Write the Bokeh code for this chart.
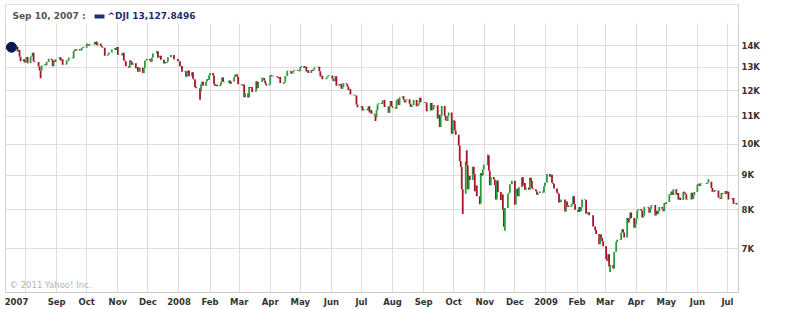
import pandas as pd
from bokeh.plotting import figure
from bokeh.models import ColumnDataSource, FixedTicker, Label, BoxAnnotation, Range1d
from bokeh.embed import file_html
from bokeh.resources import INLINE

# ---- data: ^DJI daily closes, grouped by month (trading days in order) ----
closes_by_month = {
    "2007-07": [13861, 13907, 13951, 13972, 13918, 14000, 13851, 13943, 13716, 13785, 13473, 13266, 13358, 13212],
    "2007-08": [13362, 13463, 13182, 13469, 13505, 13658, 13271, 13240, 13237, 13029, 12861, 12846, 13079, 13122, 13091, 13236, 13236, 13379, 13322, 13041, 13289, 13239, 13358],
    "2007-09": [13448, 13306, 13364, 13113, 13128, 13308, 13292, 13425, 13443, 13404, 13739, 13816, 13767, 13821, 13759, 13779, 13878, 13913, 13896],
    "2007-10": [14088, 14047, 14003, 14066, 14066, 14043, 14165, 14079, 14015, 14093, 13985, 13912, 13892, 13889, 13522, 13567, 13676, 13675, 13671, 13807, 13870, 13793, 13930],
    "2007-11": [13567, 13595, 13543, 13661, 13300, 13267, 13043, 12988, 13307, 13231, 13110, 13177, 12958, 13010, 12799, 12981, 12743, 12958, 13289, 13312, 13372],
    "2007-12": [13315, 13249, 13445, 13620, 13626, 13728, 13433, 13474, 13518, 13340, 13168, 13233, 13207, 13245, 13451, 13550, 13551, 13359, 13366, 13265],
    "2008-01": [13044, 13057, 12800, 12827, 12590, 12736, 12853, 12606, 12778, 12501, 12467, 12159, 12099, 11971, 12271, 12379, 12207, 12384, 12480, 12443, 12650],
    "2008-02": [12743, 12636, 12265, 12200, 12248, 12182, 12240, 12374, 12553, 12376, 12348, 12337, 12427, 12285, 12381, 12570, 12684, 12694, 12582, 12266],
    "2008-03": [12258, 12213, 12254, 11741, 11894, 11740, 12157, 12111, 12146, 11952, 11972, 12392, 12099, 12361, 12548, 12533, 12423, 12302, 12216, 12263],
    "2008-04": [12654, 12608, 12627, 12610, 12612, 12577, 12527, 12581, 12325, 12303, 12362, 12619, 12620, 12849, 12826, 12721, 12763, 12849, 12891, 12872, 12832, 12820],
    "2008-05": [13010, 13058, 12970, 13021, 12814, 12867, 12745, 12876, 12832, 12899, 12992, 12986, 13028, 12828, 12601, 12625, 12480, 12548, 12594, 12647, 12638],
    "2008-06": [12503, 12402, 12391, 12605, 12210, 12280, 12289, 12084, 12141, 12308, 12270, 12160, 12030, 12063, 11843, 11842, 11808, 11811, 11453, 11347, 11350],
    "2008-07": [11382, 11215, 11288, 11232, 11385, 11147, 11229, 11100, 11055, 10963, 11239, 11446, 11496, 11467, 11603, 11632, 11350, 11371, 11132, 11398, 11584, 11379],
    "2008-08": [11326, 11284, 11616, 11656, 11432, 11734, 11782, 11642, 11533, 11616, 11660, 11480, 11349, 11417, 11431, 11628, 11387, 11413, 11502, 11715, 11544],
    "2008-09": [11516, 11533, 11188, 11220, 11511, 11231, 11268, 11434, 11421, 10918, 11060, 10610, 11020, 11388, 11016, 10855, 10825, 11023, 11143, 10365, 10851],
    "2008-10": [10831, 10483, 10325, 9955, 9447, 9258, 8579, 8451, 9388, 9311, 8578, 8979, 8852, 9265, 9034, 8519, 8691, 8379, 8176, 9065, 8991, 9180, 9325],
    "2008-11": [9319, 9625, 9139, 8695, 8944, 8871, 8694, 8283, 8836, 8497, 8273, 8425, 7997, 7552, 8046, 8443, 8480, 8727, 8829],
    "2008-12": [8149, 8419, 8592, 8376, 8636, 8935, 8691, 8762, 8565, 8630, 8565, 8925, 8824, 8605, 8579, 8519, 8419, 8468, 8515, 8483, 8668, 8776],
    "2009-01": [9035, 8953, 9015, 8770, 8742, 8600, 8474, 8449, 8201, 8213, 8281, 7949, 8229, 8123, 8078, 8117, 8175, 8376, 8149, 8001],
    "2009-02": [7937, 8078, 7957, 8063, 8281, 8270, 7889, 7939, 7933, 7850, 7553, 7556, 7466, 7366, 7115, 7351, 7271, 7183, 7063],
    "2009-03": [6763, 6726, 6876, 6594, 6627, 6547, 6926, 6930, 7170, 7224, 7217, 7395, 7486, 7400, 7279, 7776, 7660, 7750, 7925, 7777, 7522, 7609],
    "2009-04": [7761, 7978, 8018, 7975, 7789, 7837, 8083, 8058, 7921, 8030, 8126, 8132, 7842, 7970, 7887, 7957, 8076, 8026, 7958, 8186, 8168],
    "2009-05": [8212, 8426, 8410, 8512, 8410, 8575, 8419, 8469, 8284, 8331, 8268, 8504, 8475, 8423, 8293, 8278, 8474, 8300, 8404, 8500],
    "2009-06": [8722, 8741, 8676, 8750, 8764, 8764, 8764, 8740, 8770, 8799, 8612, 8504, 8497, 8555, 8539, 8339, 8323, 8300, 8472, 8439, 8529, 8447],
    "2009-07": [8504, 8281, 8324, 8163, 8179, 8183, 8146],
}
first_day = "2007-07-12"
last_day = "2009-07-10"
market_holidays = ["2007-09-03", "2007-11-22", "2007-12-25", "2008-01-01", "2008-01-21",
                   "2008-02-18", "2008-03-21", "2008-05-26", "2008-07-04", "2008-09-01",
                   "2008-11-27", "2008-12-25", "2009-01-01", "2009-01-19", "2009-02-16",
                   "2009-04-10", "2009-05-25", "2009-07-03"]

# notable intraday extremes
intraday_lows = {"2007-08-16": 12518, "2008-01-22": 11634, "2008-03-10": 11730,
                 "2008-07-15": 10827, "2008-10-10": 7882, "2008-10-27": 8150,
                 "2008-11-21": 7449, "2008-12-01": 8140, "2009-03-06": 6470}
intraday_highs = {"2007-10-11": 14198, "2008-10-14": 9800, "2008-11-04": 9654,
                  "2008-10-13": 9430, "2009-06-12": 8877}

# axis text
tick_dates = ["2007-07-23", "2007-09-01", "2007-10-01", "2007-11-01", "2007-12-01", "2008-01-01",
              "2008-02-01", "2008-03-01", "2008-04-01", "2008-05-01", "2008-06-01", "2008-07-01",
              "2008-08-01", "2008-09-01", "2008-10-01", "2008-11-01", "2008-12-01", "2009-01-01",
              "2009-02-01", "2009-03-01", "2009-04-01", "2009-05-01", "2009-06-01", "2009-07-01"]
tick_labels = ["2007", "Sep", "Oct", "Nov", "Dec", "2008", "Feb", "Mar", "Apr", "May", "Jun", "Jul",
               "Aug", "Sep", "Oct", "Nov", "Dec", "2009", "Feb", "Mar", "Apr", "May", "Jun", "Jul"]
y_ticks = [7000, 8000, 9000, 10000, 11000, 12000, 13000, 14000]
y_labels = ["7K", "8K", "9K", "10K", "11K", "12K", "13K", "14K"]

header_date = "Sep 10, 2007 :"
header_series = "^DJI 13,127.8496"
copyright_text = "\u00a9 2011 Yahoo! Inc."

# ---- build bars ----
days = pd.bdate_range(first_day, last_day)
days = days[~days.isin(pd.to_datetime(market_holidays))]
dates, closes = [], []
for month, vals in closes_by_month.items():
    mdays = [d for d in days if d.strftime("%Y-%m") == month]
    n = min(len(mdays), len(vals))
    dates += mdays[:n]
    closes += vals[:n]

opens = [closes[0]] + closes[:-1]
lo, hi, colors = [], [], []
for d, o, c in zip(dates, opens, closes):
    key = d.strftime("%Y-%m-%d")
    l = min(o, c, intraday_lows.get(key, c))
    h = max(o, c, intraday_highs.get(key, c))
    lo.append(l)
    hi.append(h)
    colors.append("#2a9a3a" if c >= o else "#a3132d")

src = ColumnDataSource(dict(date=dates, lo=lo, hi=hi, color=colors))

x_start = pd.Timestamp("2007-07-12")
x_end = pd.Timestamp("2009-07-12")

p = figure(width=787, height=309, x_axis_type="datetime", y_axis_type="log",
           y_axis_location="right", output_backend="svg", toolbar_location=None,
           x_range=Range1d(x_start, x_end), y_range=Range1d(6034, 16100),
           min_border_left=5, min_border_right=49, min_border_top=4, min_border_bottom=17)
p.background_fill_color = "white"
p.border_fill_color = "white"
p.outline_line_color = "#d4d4d4"

month_starts = pd.date_range("2007-08-01", "2009-07-01", freq="MS")
ms = lambda t: pd.Timestamp(t).value // 10**6
p.xgrid.ticker = FixedTicker(ticks=[ms(t) for t in month_starts])
p.ygrid.ticker = FixedTicker(ticks=y_ticks)
p.grid.grid_line_color = "#dedede"
p.grid.grid_line_width = 1

p.xaxis.ticker = FixedTicker(ticks=[ms(t) for t in tick_dates])
p.xaxis.major_label_overrides = {ms(t): lab for t, lab in zip(tick_dates, tick_labels)}
p.yaxis.ticker = FixedTicker(ticks=y_ticks)
p.yaxis.major_label_overrides = {t: lab for t, lab in zip(y_ticks, y_labels)}
for ax in (p.xaxis, p.yaxis):
    ax.axis_line_color = "#cccccc"
    ax.major_tick_line_color = None
    ax.minor_tick_line_color = None
    ax.major_tick_out = 0
    ax.major_tick_in = 0
    ax.minor_tick_out = 0
    ax.minor_tick_in = 0
    ax.major_label_text_font = "DejaVu Sans"
    ax.major_label_text_font_style = "bold"
    ax.major_label_text_font_size = "8.5px"
    ax.major_label_text_color = "#333333"
p.xaxis.major_label_standoff = 4
p.yaxis.major_label_standoff = 3

p.segment(x0="date", y0="lo", x1="date", y1="hi", color="color", line_width=1.8, source=src)
p.scatter(x=[dates[4]], y=[closes[4]], size=10, fill_color="#0b1650", line_color="#0b1650")

# header area (white strip above plotting grid)
p.add_layout(BoxAnnotation(bottom=15090, fill_color="white", fill_alpha=1.0, line_color=None))
p.add_layout(Label(x=7, y=277, x_units="screen", y_units="screen", text=header_date,
                   text_font="DejaVu Sans", text_font_style="bold", text_font_size="9px",
                   text_color="#555555", text_baseline="middle"))
p.add_layout(BoxAnnotation(left=89, right=99, bottom=274, top=278, left_units="screen",
                           right_units="screen", bottom_units="screen", top_units="screen",
                           fill_color="#1f2d72", fill_alpha=1.0, line_color=None))
p.add_layout(Label(x=102, y=277, x_units="screen", y_units="screen", text=header_series,
                   text_font="DejaVu Sans", text_font_style="bold", text_font_size="9px",
                   text_color="#1f2d72", text_baseline="middle"))
p.add_layout(Label(x=4, y=8, x_units="screen", y_units="screen", text=copyright_text,
                   text_font="DejaVu Sans", text_font_size="8.5px",
                   text_color="#b4b4b4", text_baseline="middle"))

open("out.html", "w").write(file_html(p, INLINE))
